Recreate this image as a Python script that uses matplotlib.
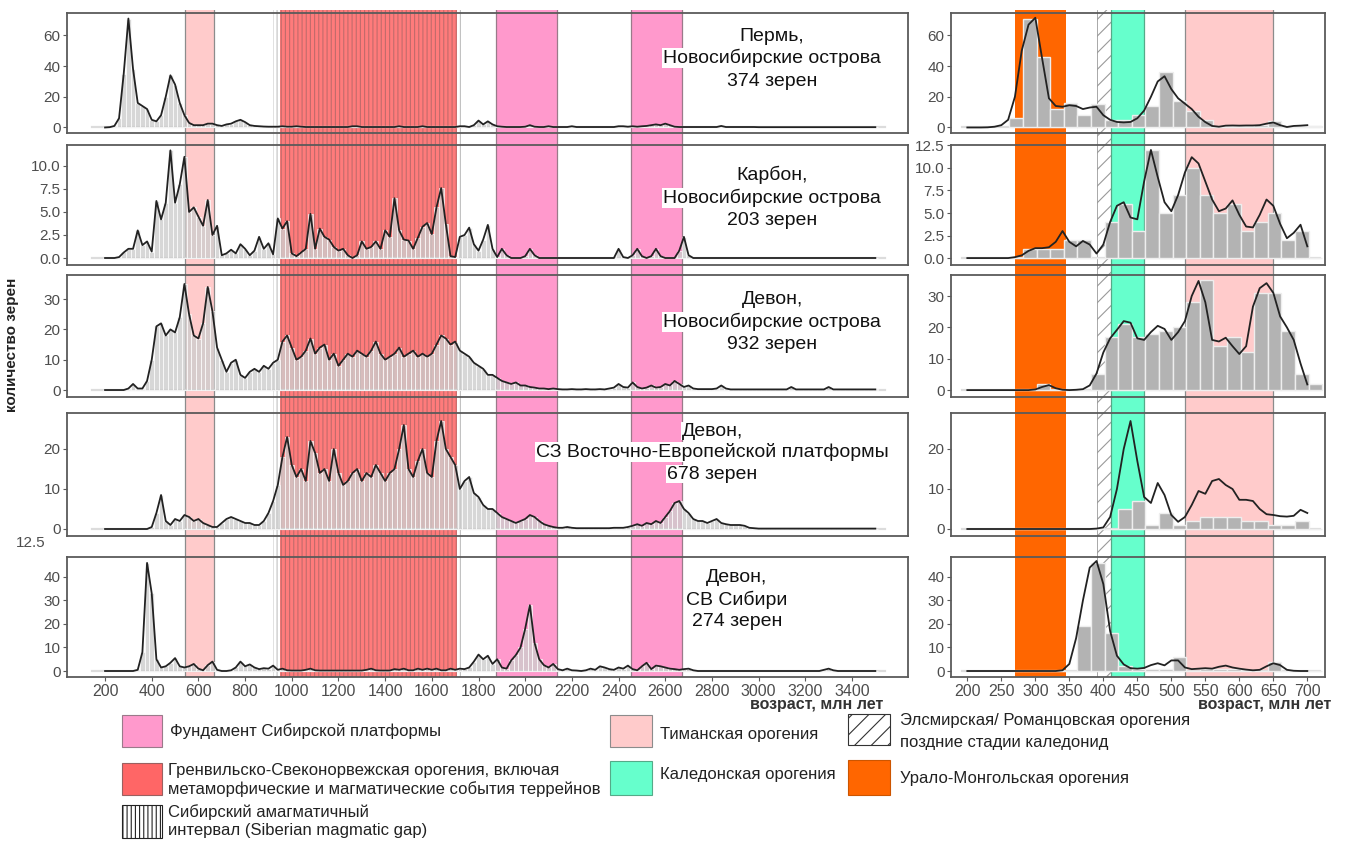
#-------------------------------- LIBRARIES -----------------------------------

import numpy as np
import matplotlib
matplotlib.use("Agg")
import matplotlib.pyplot as plt
from matplotlib.patches import Rectangle
from matplotlib.ticker import FormatStrFormatter

plt.rcParams["font.family"] = ["Liberation Sans", "DejaVu Sans"]
plt.rcParams["hatch.linewidth"] = 0.8

#---------------------------------- DATA --------------------------------------

#left panels: grain counts per 20 Ma bin, 200 ... 3500 Ma
left_ages = np.arange(200, 3501, 20)

perm_left = [0, 0.2, 1, 6, 35, 71, 38, 16, 14, 12,
             5, 4, 8, 20, 34, 28, 16, 8, 3, 1.5,
             1.5, 1.5, 2.5, 2.5, 1.5, 1, 2, 2.5, 4, 5,
             3.5, 1.5, 1, 0.8, 0.6, 0.5, 0.5, 0.5, 0.8, 0.5,
             0.5, 0.8, 0.5, 0.3, 0.3, 0.3, 0.3, 0.3, 0.3, 0.3,
             0.3, 0.3, 0.3, 0.8, 0.8, 0.3, 0.3, 0.3, 0.3, 0.3,
             0.3, 0.3, 0.3, 0.8, 0.3, 0.3, 0.3, 0.3, 0.8, 0.3,
             0.3, 0.3, 0.3, 0.3, 0.3, 0.3, 0.8, 0.8, 0.3, 1.5,
             4.5, 2, 4, 2, 0.8, 0.5, 0.3, 0.3, 0.3, 0.3,
             0.5, 1.5, 0.5, 0.3, 0.3, 0.8, 0.3, 0.3, 0.3, 0.3,
             0.8, 0.3, 0.3, 0.3, 0.3, 0.3, 0.3, 0.3, 0.3, 0.3,
             0.8, 0.8, 0.5, 0.8, 0.5, 0.8, 1, 1.5, 2, 1.5,
             2.5, 1.5, 0.5, 0.3, 0.3, 0.3, 0.3, 0.3, 0.3, 0.3,
             0.3, 0.3, 1, 0.3, 0.3, 0.3, 0.3, 0.3, 0.3, 0.3,
             0.2, 0.2, 0.2, 0.2, 0.2, 0.2, 0.2, 0.2, 0.2, 0.2,
             0.2, 0.2, 0.2, 0.2, 0.2, 0.2, 0.2, 0.2, 0.2, 0.2,
             0.2, 0.2, 0.2, 0.2, 0.2, 0.2]

carb_left = [0, 0, 0, 0.1, 0.6, 1.0, 1.0, 3.0, 1.4, 1.8,
             0.7, 6.2, 4.2, 6.0, 11.7, 6.0, 8.0, 11.0, 5.0, 5.5,
             4.5, 3.5, 6.3, 2.5, 3.5, 0.3, 0.5, 0.9, 0.5, 1.5,
             1.0, 0.3, 0.8, 2.3, 1.0, 1.6, 0.4, 4.3, 3.2, 4.0,
             0.5, 0.2, 0.6, 1.0, 4.8, 1.0, 3.2, 2.3, 2.0, 1.2,
             0.8, 1.0, 0.3, 0, 0.3, 1.8, 1.0, 1.2, 1.8, 1.0,
             3.0, 2.3, 6.5, 3.0, 2.0, 1.9, 1.0, 2.2, 3.4, 3.8,
             2.6, 5.5, 7.6, 3.7, 0.2, 0.1, 2.3, 2.5, 3.3, 1.5,
             0.8, 2.0, 3.6, 1.0, 0.1, 1.0, 0.3, 0, 0, 0,
             0.2, 1.0, 0.3, 0, 0, 0, 0, 0, 0, 0,
             0, 0, 0, 0, 0, 0, 0, 0, 0, 0,
             1.0, 0.1, 0, 0.3, 1.0, 0.2, 0, 0.2, 1.0, 0.2,
             0, 0, 0, 0.8, 2.3, 0.3, 0, 0, 0, 0,
             0, 0, 0, 0, 0, 0, 0, 0, 0, 0,
             0, 0, 0, 0, 0, 0, 0, 0, 0, 0,
             0, 0, 0, 0, 0, 0, 0, 0, 0, 0,
             0, 0, 0, 0, 0, 0]

dev_nsi_left = [0, 0, 0, 0, 0, 0.5, 2, 0.5, 0.5, 3,
                10, 21, 22, 18, 20, 19, 24, 35, 25, 18,
                17, 22, 34, 26, 14, 10, 6, 9, 10, 5,
                4, 6, 7, 6, 8, 7, 9, 10, 16, 18,
                14, 10, 11, 13, 17, 12, 14, 15, 10, 12,
                8, 10, 12, 11, 13, 12, 11, 13, 16, 12,
                10, 11, 12, 14, 11, 12, 13, 11, 12, 11,
                12, 15, 18, 17, 15, 16, 13, 12, 11, 9,
                8, 7, 5, 5, 4, 3, 2.5, 2, 2.5, 1.5,
                1.5, 1, 0.8, 0.5, 0.5, 0.3, 0.5, 0.3, 0.2, 0.2,
                0.3, 0.2, 0.2, 0.3, 0.2, 0.2, 0.3, 0.2, 0.5, 0.8,
                2, 1, 0.8, 2.5, 1, 0.5, 0.8, 1.5, 0.8, 1,
                2, 1.5, 3, 2, 1, 1.5, 0.5, 0.3, 0.3, 0.3,
                0.3, 0.5, 1.5, 0.5, 0.2, 0.2, 0.2, 0.2, 0.2, 0.2,
                0.2, 0.2, 0.2, 0.2, 0.2, 0.2, 0.2, 1, 0.2, 0.2,
                0.2, 0.2, 0.2, 0.2, 0.2, 1, 0.2, 0.2, 0.2, 0.2,
                0.2, 0.2, 0.2, 0.2, 0.2, 0.2]

dev_vep_left = [0, 0, 0, 0, 0, 0, 0, 0, 0, 0,
                0.5, 4, 8.5, 2, 1, 2.5, 2, 3.5, 3, 2,
                2.5, 1.5, 1, 0.5, 0.5, 1.5, 2.5, 3, 2.5, 2,
                1.5, 1.5, 1, 1, 2, 4, 7, 11, 18, 23,
                16, 13, 15, 12, 22, 19, 14, 15, 12, 20,
                14, 11, 12, 14, 15, 12, 14, 13, 16, 14,
                12, 14, 15, 20, 26, 15, 13, 17, 20, 14,
                13, 22, 27, 20, 18, 16, 10, 12, 13, 9,
                8, 6, 5, 5, 4, 3, 2.5, 2, 1.5, 2,
                2.5, 3.5, 3, 2, 1.2, 0.8, 0.5, 0.3, 0.3, 0.5,
                0.3, 0.2, 0.2, 0.2, 0.2, 0.2, 0.2, 0.2, 0.2, 0.3,
                0.3, 0.3, 0.5, 0.8, 1.2, 0.8, 1.5, 1.2, 2, 1.5,
                3, 4.5, 6.5, 7, 5, 4, 2.5, 2, 2, 1.5,
                2, 2.5, 1.5, 1.2, 1, 1, 1, 0.8, 0.3, 0.2,
                0.1, 0.1, 0.1, 0.1, 0.1, 0.1, 0.1, 0.1, 0.1, 0.1,
                0.1, 0.1, 0.1, 0.1, 0.1, 0.1, 0.1, 0.1, 0.1, 0.1,
                0.1, 0.1, 0.1, 0.1, 0.1, 0.1]

dev_sib_left = [0, 0, 0, 0, 0, 0, 0, 0.5, 8, 46,
                33, 5, 1.5, 2, 3.5, 5.5, 2, 1.5, 2, 3,
                1, 0.3, 2.5, 4, 0.5, 0, 0, 0.3, 1.5, 4,
                2, 2.8, 1.5, 0.8, 1.2, 1, 2.3, 0.5, 1, 0.3,
                0.2, 0.2, 0.2, 0.5, 1, 0.3, 0.2, 0.2, 0.2, 0.2,
                0.2, 0.2, 0.2, 0.2, 0.2, 0.2, 0.5, 1, 0.3, 0.2,
                0.2, 0.2, 0.8, 0.5, 1, 0.3, 0.3, 1, 0.5, 1,
                0.5, 1, 0.3, 0.3, 1, 0.5, 1, 0.8, 1.5, 4,
                7, 5, 6.5, 3, 5, 1.5, 1, 4.5, 6.8, 10,
                18, 28, 12, 5, 2.5, 1.5, 3, 0.8, 0.3, 1,
                0.3, 0.2, 0, 0.3, 1, 0.5, 2, 1.5, 0.8, 0.5,
                1.5, 1, 2.3, 0.8, 0.3, 2, 3.5, 0.8, 2.3, 2,
                1.5, 1, 0.8, 0.5, 0.8, 1, 0.3, 0, 0, 0,
                0, 0, 0, 0, 0, 0, 0, 0, 0, 0,
                0, 0, 0, 0, 0, 0, 0, 0, 0, 0,
                0, 0, 0, 0, 0.5, 1, 0.3, 0, 0, 0,
                0, 0, 0, 0, 0, 0]

#right panels: histogram (20 Ma bins) and density curve (10 Ma steps)
right_bins = np.arange(272, 713, 20)
right_ages = np.arange(200, 701, 10)

perm_right_bars = [6, 71, 46, 12, 16, 8, 15, 5, 5, 8, 14, 36,
                   17, 11, 5, 1, 1, 1, 1.5, 4, 1, 1, 1]
carb_right_bars = [0, 1, 1, 1, 2, 2, 0, 4, 6, 3, 12, 5,
                   7, 10, 7, 5, 6, 3, 4, 5, 2, 3, 0]
dev_nsi_right_bars = [0, 0, 2, 0, 0, 0, 5, 17, 21, 17, 18, 19,
                      20, 28, 35, 14, 17, 12, 31, 31, 19, 5, 2]
dev_vep_right_bars = [0, 0, 0, 0, 0, 0, 0, 0, 5, 7, 1, 4,
                      1, 2, 3, 3, 3, 2, 2, 1, 1, 2, 0]
dev_sib_right_bars = [0, 0, 0, 0, 0, 19, 46, 16, 2, 1, 1, 1,
                      6, 0, 1, 1, 1, 0, 0, 4, 0, 0, 0]

perm_right_kde = [0, 0, 0, 0.1, 0.5, 1.5, 5, 20, 50, 67,
                  71.5, 45, 19, 14, 13.5, 14.5, 14, 12, 13, 13.5,
                  8, 5, 3.6, 3.3, 3.6, 6, 11, 20, 30, 33.4,
                  25, 19, 15.5, 12, 7, 3.5, 1, 0.5, 1.2, 1.3,
                  1.2, 1.3, 1.3, 1.5, 2.5, 3.3, 1.5, 0.3, 1, 1.2,
                  1.5]
carb_right_kde = [0, 0, 0, 0, 0, 0, 0, 0.1, 0.3, 0.8,
                  1.1, 1.1, 1.2, 1.8, 3.0, 1.8, 1.3, 1.9, 1.5, 0.5,
                  1.5, 4.0, 5.8, 6.2, 4.5, 4.3, 8.5, 12, 9, 6.2,
                  5.2, 7, 9.5, 11.2, 10.5, 8.5, 6.5, 5.2, 5.5, 6.4,
                  4.8, 3.5, 3.4, 4.8, 6.5, 5.8, 3.8, 2.2, 2.8, 3.7,
                  1.3]
dev_nsi_right_kde = [0, 0, 0, 0, 0, 0, 0, 0, 0, 0,
                     0.2, 1.0, 1.6, 0.6, 0.1, 0, 0.1, 0.3, 1.5, 5.3,
                     12, 16.5, 19.2, 22, 21.5, 16.5, 16, 18.5, 20.5, 19.5,
                     16, 18.5, 22, 30, 34.8, 28, 16, 15.5, 16.7, 14,
                     11.5, 14, 26.6, 32.5, 34.1, 31, 23.5, 20, 16, 8.5,
                     1.8]
dev_vep_right_kde = [0, 0, 0, 0, 0, 0, 0, 0, 0, 0,
                     0, 0, 0, 0, 0, 0, 0, 0, 0, 0.1,
                     0.4, 3, 10, 20, 27, 17, 8, 6.5, 11.5, 8.5,
                     3.5, 1.8, 3, 6, 9.5, 8.8, 12, 12.5, 11, 10,
                     7.3, 7.3, 7, 5, 3.7, 3.5, 3.2, 3.1, 3.3, 4.8,
                     4]
dev_sib_right_kde = [0, 0, 0, 0, 0, 0, 0, 0, 0, 0,
                     0, 0, 0, 0, 0.3, 3, 14, 30, 44, 46.8,
                     37, 17, 6.5, 2.8, 1.2, 1, 1.3, 2.5, 3.3, 2.4,
                     4.5, 4.5, 1.5, 0.8, 1, 1.2, 1, 1.8, 2.3, 1.5,
                     1, 0.6, 0.3, 0.5, 2, 3.3, 2.5, 0.5, 0.1, 0,
                     0]

titles = [["Пермь,", "Новосибирские острова", "374 зерен"],
          ["Карбон,", "Новосибирские острова", "203 зерен"],
          ["Девон,", "Новосибирские острова", "932 зерен"],
          ["Девон,", "СЗ Восточно-Европейской платформы", "678 зерен"],
          ["Девон,", "СВ Сибири", "274 зерен"]]

#orogenic events, Ma
timan = (543, 668)
grenville = (949, 1707)
magmatic_gap = (921, 1737)
siberia_basement = [(1877, 2138), (2455, 2673)]
urals = (270, 345)
ellesmere = (391, 412)
caledonian = (412, 460)
timan_right = (520, 650)

#------------------------------- FIGURE ---------------------------------------

W, H = 1347, 841
fig = plt.figure(figsize=(W / 100, H / 100), dpi=100)

def px_rect(x0, y0, x1, y1):
    return [x0 / W, 1 - y1 / H, (x1 - x0) / W, (y1 - y0) / H]

rows = [(13, 133), (145, 265), (275, 397), (413, 536), (557, 677)]
left_px = (67, 908)
right_px = (951, 1325)
left_xlim = (37, 3640)
right_xlim = (176, 726)

left_ylims = [(-3.6, 74.6), (-0.76, 12.28), (-2.3, 37.95), (-1.75, 29.0), (-2.55, 48.5)]
right_ylims = [(-3.6, 74.6), (-0.77, 12.55), (-2.2, 36.7), (-1.75, 29.0), (-2.55, 48.5)]
left_yticks = [[0, 20, 40, 60], [0, 2.5, 5, 7.5, 10], [0, 10, 20, 30],
               [0, 10, 20], [0, 10, 20, 30, 40]]
right_yticks = [[0, 20, 40, 60], [0, 2.5, 5, 7.5, 10, 12.5], [0, 10, 20, 30],
                [0, 10, 20], [0, 10, 20, 30, 40]]

left_series = [perm_left, carb_left, dev_nsi_left, dev_vep_left, dev_sib_left]
right_bars = [perm_right_bars, carb_right_bars, dev_nsi_right_bars,
              dev_vep_right_bars, dev_sib_right_bars]
right_kde = [perm_right_kde, carb_right_kde, dev_nsi_right_kde,
             dev_vep_right_kde, dev_sib_right_kde]

title_pos = [(772, [36, 58, 81]), (772, [175, 198, 220]), (772, [300, 322, 344]),
             (712, [431, 452, 474]), (737, [577, 600, 622])]

frame_col = "#5a5a5a"
tick_col = "#4d4d4d"

def band(ax, span, face, edge=None, **kw):
    #filled band with only its two vertical edges outlined
    ax.axvspan(*span, facecolor=face, edgecolor="none", lw=0, **kw)
    if edge is not None:
        for x in span:
            ax.axvline(x, color=edge, lw=0.9)

#background bands, spanning all the panels
bg_l = fig.add_axes(px_rect(left_px[0], 10, left_px[1], 677), zorder=0)
bg_l.set_xlim(left_xlim)
bg_l.set_ylim(0, 1)
bg_l.axis("off")
band(bg_l, timan, "#ffcbcb", "#8c8c8c")
band(bg_l, grenville, "#ff7b7b")
bg_l.axvspan(*magmatic_gap, facecolor="none", hatch="||||",
             edgecolor=(0.3, 0.3, 0.3, 0.35), lw=0)
for span in siberia_basement:
    band(bg_l, span, "#ff99cc", "#9a7a8a")

bg_r = fig.add_axes(px_rect(right_px[0], 10, right_px[1], 677), zorder=0)
bg_r.set_xlim(right_xlim)
bg_r.set_ylim(0, 1)
bg_r.axis("off")
band(bg_r, urals, "#ff6600")
bg_r.axvspan(*ellesmere, facecolor="white", hatch="//",
             edgecolor="#9a9a9a", lw=0)
for x in ellesmere:
    bg_r.axvline(x, color="#9a9a9a", lw=0.6)
band(bg_r, caledonian, "#66ffcc", "#55aa88")
band(bg_r, timan_right, "#ffcbcb", "#8c8c8c")

def style_axis(ax, xlim, ylim, yticks, bottom):
    ax.set_facecolor("none")
    ax.set_xlim(xlim)
    ax.set_ylim(ylim)
    ax.set_yticks(yticks)
    if 2.5 in yticks:
        ax.yaxis.set_major_formatter(FormatStrFormatter("%.1f"))
    for sp in ax.spines.values():
        sp.set_color(frame_col)
        sp.set_linewidth(1.3)
    ax.tick_params(axis="y", length=3, width=0.8, color=frame_col,
                   labelcolor=tick_col, labelsize=11, pad=1.5)
    if bottom:
        ax.tick_params(axis="x", length=3, width=0.8, color=frame_col,
                       labelcolor=tick_col, labelsize=11.5, pad=2)
    else:
        ax.set_xticks([])

#panels
for i, (top, bot) in enumerate(rows):
    last = i == len(rows) - 1

    axl = fig.add_axes(px_rect(left_px[0], top, left_px[1], bot), zorder=2)
    axl.axhline(0, xmin=0.03, xmax=0.973, color="#dcdcdc", lw=1.6, zorder=1)
    axl.bar(left_ages, left_series[i], width=20, color="#cdcdcd", alpha=0.8,
            edgecolor="white", linewidth=0.6, zorder=2)
    axl.plot(left_ages, left_series[i], color="#222222", lw=1.3, zorder=3)
    style_axis(axl, left_xlim, left_ylims[i], left_yticks[i], last)
    if last:
        axl.set_xticks(np.arange(200, 3401, 200))

    axr = fig.add_axes(px_rect(right_px[0], top, right_px[1], bot), zorder=2)
    axr.axhline(0, xmin=0.03, xmax=0.987, color="#dcdcdc", lw=1.6, zorder=1)
    axr.bar(right_bins, right_bars[i], width=20, color="#b3b3b3",
            edgecolor="#eeeeee", linewidth=1.0, zorder=2)
    axr.plot(right_ages, right_kde[i], color="#222222", lw=1.3, zorder=3)
    style_axis(axr, right_xlim, right_ylims[i], right_yticks[i], last)
    if last:
        axr.set_xticks(np.arange(200, 701, 50))

#overlay in pixel units for titles, labels and legend
ov = fig.add_axes([0, 0, 1, 1], zorder=5)
ov.set_xlim(0, W)
ov.set_ylim(H, 0)
ov.axis("off")

for (cx, ys), lines in zip(title_pos, titles):
    for y, line in zip(ys, lines):
        ov.text(cx, y, line, ha="center", va="center", fontsize=14,
                color="#111111",
                bbox=dict(facecolor="white", edgecolor="none", pad=0.6))

ov.text(12, 345, "количество зерен", rotation=90, ha="center", va="center",
        fontsize=11, fontweight="bold", color="#222222")
ov.text(817, 704, "возраст, млн лет", ha="center", va="center",
        fontsize=11.5, fontweight="bold", color="#333333")
ov.text(1265, 704, "возраст, млн лет", ha="center", va="center",
        fontsize=11.5, fontweight="bold", color="#333333")
ov.text(31, 543, "12.5", ha="center", va="center", fontsize=11, color=tick_col)

#legend
legend_items = [
    ((122, 715, 162, 747), dict(facecolor="#ff99cc", edgecolor="#9a7a8a"),
     170, ["Фундамент Сибирской платформы"], [731]),
    ((122, 763, 162, 795), dict(facecolor="#ff6666", edgecolor="#9a6060"),
     168, ["Гренвильско-Свеконорвежская орогения, включая",
           "метаморфические и магматические события террейнов"], [771, 789]),
    ((122, 805, 162, 838), dict(facecolor="white", edgecolor="#222222", hatch="||||"),
     168, ["Сибирский амагматичный", "интервал (Siberian magmatic gap)"], [812, 830]),
    ((610, 715, 652, 747), dict(facecolor="#ffcbcb", edgecolor="#8c8c8c"),
     660, ["Тиманская орогения"], [735]),
    ((610, 761, 652, 795), dict(facecolor="#66ffcc", edgecolor="#55aa88"),
     660, ["Каледонская орогения"], [775]),
    ((848, 714, 890, 745), dict(facecolor="white", edgecolor="#333333", hatch="//"),
     900, ["Элсмирская/ Романцовская орогения", "поздние стадии каледонид"], [721, 743]),
    ((848, 760, 890, 795), dict(facecolor="#ff6600", edgecolor="#cc5500"),
     900, ["Урало-Монгольская орогения"], [778]),
]
for (x0, y0, x1, y1), style, tx, lines, ys in legend_items:
    ov.add_patch(Rectangle((x0, y0), x1 - x0, y1 - y0, lw=0.8, **style))
    for y, line in zip(ys, lines):
        ov.text(tx, y, line, ha="left", va="center", fontsize=12, color="#222222")

fig.savefig("out.png", dpi=100, facecolor="white")
